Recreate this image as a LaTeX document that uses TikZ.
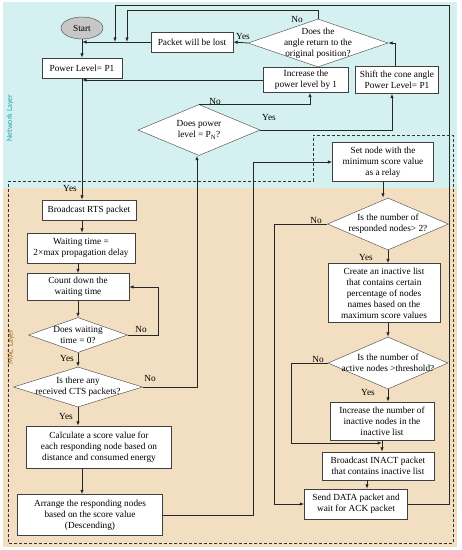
\documentclass[tikz,border=0pt]{standalone}
\usepackage{fontspec}
\setmainfont{Liberation Serif}
\newfontfamily\layerfont{Carlito}
\usetikzlibrary{shapes.geometric, arrows.meta, positioning}
\definecolor{netbg}{RGB}{213,240,240}
\definecolor{macbg}{RGB}{242,222,193}
\definecolor{netfg}{RGB}{40,165,175}
\definecolor{macfg}{RGB}{175,110,30}

\begin{document}
\begin{tikzpicture}[x=1pt, y=-1pt, >={Latex[length=4.5pt,width=3.5pt]},
    proc/.style={draw=black!75, fill=white, align=center, inner sep=1pt,
                 font=\fontsize{9.3}{11}\selectfont},
    decision/.style={diamond, draw=black!75, fill=white, inner sep=0pt},
    dtext/.style={align=center, inner sep=0pt, font=\fontsize{9.3}{11}\selectfont},
    lbl/.style={inner sep=0pt, font=\fontsize{9.3}{11}\selectfont},
    flow/.style={->, draw=black!85, line width=0.8pt},
    layer/.style={rotate=90, inner sep=0pt, font=\layerfont\fontsize{8}{9}\selectfont}]

    \useasboundingbox (0,0) rectangle (462,550);
    % the two layers
    \fill[netbg] (3,2) rectangle (457,188);
    \fill[macbg] (3,188) rectangle (457,547);
    \node[layer, text=netfg] (netlabel) at (10,118) {Network Layer};
    \node[layer, text=macfg] (maclabel) at (11,347) {MAC Layer};
    \draw[black!80, line width=0.8pt, dash pattern=on 3pt off 2pt]
        (8,181) -- (313,181) -- (313,135) -- (453,135) -- (453,543) -- (8,543) -- cycle;

    % network layer
    \node[ellipse, draw=black!75, fill=black!22, minimum width=42pt, minimum height=22pt,
          inner sep=0pt, font=\fontsize{9.3}{11}\selectfont] (start) at (82,28) {Start};
    \node[proc, minimum width=82pt, minimum height=20pt] (lost) at (192,42) {Packet will be lost};
    \node[decision, minimum width=140pt, minimum height=48pt] (angle) at (318,43) {};
    \node[dtext] (angle-t) at (318,43) {Does the\\angle return to the\\original position?};
    \node[proc, minimum width=80pt, minimum height=20pt] (power1) at (82,68) {Power Level= P1};
    \node[proc, minimum width=85pt, minimum height=25pt] (incr) at (306,80) {Increase the\\power level by 1};
    \node[proc, minimum width=83pt, minimum height=27pt] (shift) at (397,80) {Shift the cone angle\\Power Level= P1};
    \node[decision, minimum width=122pt, minimum height=51pt] (pn) at (199,130) {};
    \node[dtext] (pn-t) at (199,130) {Does power\\level = P\textsubscript{N}?};
    \node[proc, minimum width=101pt, minimum height=39pt] (relay) at (383,162)
        {Set node with the\\minimum score value\\as a relay};

    % mac layer, left column
    \node[proc, minimum width=94pt, minimum height=20pt] (rts) at (89,210) {Broadcast RTS packet};
    \node[proc, minimum width=108pt, minimum height=30pt] (wait) at (81,248)
        {Waiting time =\\2×max propagation delay};
    \node[proc, minimum width=102pt, minimum height=27pt] (count) at (78,287) {Count down the\\waiting time};
    \node[decision, minimum width=99pt, minimum height=35pt] (zero) at (78,335) {};
    \node[dtext] (zero-t) at (78,335) {Does waiting\\time = 0?};
    \node[decision, minimum width=129pt, minimum height=40pt] (cts) at (78,387) {};
    \node[dtext] (cts-t) at (78,387) {Is there any\\received CTS packets?};
    \node[proc, minimum width=145pt, minimum height=42pt] (calc) at (99,447)
        {Calculate a score value for\\each responding node based on\\distance and consumed energy};
    \node[proc, minimum width=145pt, minimum height=41pt] (arrange) at (90,515)
        {Arrange the responding nodes\\based on the score value\\(Descending)};

    % mac layer, right column
    \node[decision, minimum width=121pt, minimum height=52pt] (resp) at (388,224) {};
    \node[dtext] (resp-t) at (388,224) {Is the number of\\responded nodes> 2?};
    \node[proc, minimum width=112pt, minimum height=59pt] (create) at (384,293)
        {Create an inactive list\\that contains certain\\percentage of nodes\\names based on the\\maximum score values};
    \node[decision, minimum width=120pt, minimum height=52pt] (thr) at (388,363) {};
    \node[dtext] (thr-t) at (388,363) {Is the number of\\active nodes >threshold?};
    \node[proc, minimum width=104pt, minimum height=38pt] (incn) at (382,421)
        {Increase the number of\\inactive nodes in the\\inactive list};
    \node[proc, minimum width=112pt, minimum height=28pt] (inact) at (378,466)
        {Broadcast INACT packet\\that contains inactive list};
    \node[proc, minimum width=103pt, minimum height=30pt] (send) at (356,504)
        {Send DATA packet and\\wait for ACK packet};

    % free ends
    \coordinate (jno) at (127,42);
    \coordinate (jback) at (115,42);
    \coordinate (rim) at (449,5);
    \coordinate (jinact) at (382,443);

    % connectors
    \draw[flow] (start) -- (power1);
    \draw[flow] (lost.west) -- (lost.west -| start);
    \draw[flow] (angle.west) -- (lost.east);
    \draw[flow] (angle.north) -- ++(0,-8) -| (jno);
    \draw[flow] (send.east) -| (rim) -| (jback);
    \draw[flow] (incr.west) -- (incr.west -| power1);
    \draw[flow] (pn.north) -| ([xshift=4pt]incr.south);
    \draw[flow] (pn.east) -| ([xshift=-5pt]shift.south);
    \draw[flow] ([xshift=-2pt]shift.north) |- (angle.east);
    \draw[flow] (power1.south) -- (power1.south |- rts.north);
    \draw[flow] (rts.south -| power1) -- (wait.north -| power1);
    \draw[flow] (wait.south -| count) -- (count.north);
    \draw[flow] (count) -- (zero);
    \draw[flow] (zero.east) -- ++(31,0) |- (count.east);
    \draw[flow] (zero) -- (cts);
    \draw[flow] (cts.east) -| ([xshift=-2pt]pn.south);
    \draw[flow] (cts.south) -- (cts.south |- calc.north);
    \draw[flow] (calc.south -| power1) -- (arrange.north -| power1);
    \draw[flow] (arrange.east) -- ++(91,0) |- (relay.west);
    \draw[flow] (relay.south) -- (relay.south |- resp.north);
    \draw[flow] (resp.west) -- ++(-53,0) |- (send.west);
    \draw[flow] (resp) -- (resp.south |- create.north);
    \draw[flow] (create.south -| thr) -- (thr.north);
    \draw[flow] (thr.west) -- ++(-36,0) |- (jinact);
    \draw[flow] (thr.south) -- (thr.south |- incn.north);
    \draw[flow] (incn.south) -- (incn.south |- inact.north);
    \draw[flow] ([xshift=-11pt]inact.south) -- ([xshift=-11pt]inact.south |- send.north);

    % yes / no
    \node[lbl] (yes1) at (243,36) {Yes};
    \node[lbl] (no1) at (297,19) {No};
    \node[lbl] (no2) at (215,101) {No};
    \node[lbl] (yes2) at (269,117) {Yes};
    \node[lbl] (yes3) at (70,188) {Yes};
    \node[lbl] (no3) at (141,329) {No};
    \node[lbl] (yes4) at (67,358) {Yes};
    \node[lbl] (no4) at (150,378) {No};
    \node[lbl] (yes5) at (66,416) {Yes};
    \node[lbl] (no5) at (316,220) {No};
    \node[lbl] (yes6) at (366,257) {Yes};
    \node[lbl] (no6) at (318,359) {No};
    \node[lbl] (yes7) at (368,392) {Yes};
\end{tikzpicture}
\end{document}
